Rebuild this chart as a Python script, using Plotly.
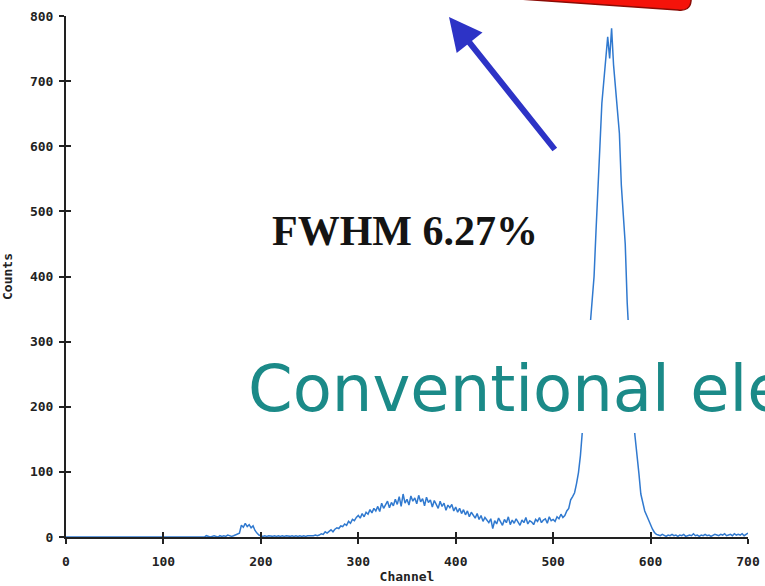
import plotly.graph_objects as go

# Pulse-height spectrum: counts per channel (sampled every 2 channels)
channels = list(range(0, 702, 2))
counts = [
    0, 0, 0, 0, 0, 0, 0, 0, 0, 0,            # 0-18
    0, 0, 0, 0, 0, 0, 0, 0, 0, 0,            # 20-38
    0, 0, 0, 0, 0, 0, 0, 0, 0, 0,            # 40-58
    0, 0, 0, 0, 0, 0, 0, 0, 0, 0,            # 60-78
    0, 0, 0, 0, 0, 0, 0, 0, 0, 0,            # 80-98
    0, 0, 0, 0, 0, 0, 0, 0, 0, 0,            # 100-118
    0, 0, 0, 0, 0, 0, 0, 0, 0, 1,            # 120-138
    1, 0, 2, 1, 0, 1, 2, 1, 0, 2,            # 140-158
    1, 2, 1, 3, 2, 1, 2, 3, 4, 6,            # 160-178
    18, 15, 21, 16, 19, 14, 17, 10, 6, 3,    # 180-198
    2, 1, 2, 1, 2, 1, 1, 2, 1, 2,            # 200-218
    1, 2, 1, 2, 1, 1, 2, 1, 2, 1,            # 220-238
    2, 1, 2, 1, 2, 2, 1, 2, 3, 2,            # 240-258
    3, 5, 4, 8, 6, 9, 11, 8, 12, 14,         # 260-278
    13, 17, 16, 20, 18, 24, 21, 27, 25, 30,  # 280-298
    33, 29, 36, 31, 38, 35, 42, 37, 44, 40,  # 300-318
    47, 39, 52, 44, 49, 55, 45, 53, 48, 58,  # 320-338
    50, 62, 47, 66, 52, 58, 49, 63, 55, 60,  # 340-358
    51, 64, 54, 59, 48, 61, 53, 57, 46, 56,  # 360-378
    50, 44, 55, 47, 52, 41, 49, 45, 50, 40,  # 380-398
    46, 38, 44, 36, 42, 34, 40, 31, 38, 33,  # 400-418
    29, 36, 27, 33, 24, 30, 26, 22, 28, 13,  # 420-438
    25, 20, 29, 23, 18, 27, 22, 31, 19, 26,  # 440-458
    21, 28, 23, 18, 26, 22, 30, 20, 25, 23,  # 460-478
    19, 27, 24, 30, 22, 26, 28, 21, 31, 25,  # 480-498
    27, 24, 31, 28, 35, 30, 33, 40, 44, 57,  # 500-518
    62, 68, 82, 99, 125, 157, 200, 250, 290, 330,      # 520-538
    370, 400, 470, 545, 600, 666, 700, 745, 768, 735,  # 540-558
    781, 725, 690, 650, 620, 540, 490, 450, 360, 300,  # 560-578
    240, 190, 155, 120, 98, 66, 50, 40, 33, 26,        # 580-598
    18, 12, 7, 4, 3, 2, 4, 3, 1, 3,          # 600-618
    2, 4, 2, 3, 1, 3, 2, 4, 1, 2,            # 620-638
    3, 2, 5, 2, 3, 1, 3, 2, 4, 2,            # 640-658
    3, 1, 2, 4, 3, 2, 4, 3, 5, 2,            # 660-678
    3, 4, 2, 5, 3, 4, 3, 5, 2, 4,            # 680-698
    6,                                       # 700
]

x_ticks = [0, 100, 200, 300, 400, 500, 600, 700]
y_ticks = [0, 100, 200, 300, 400, 500, 600, 700, 800]

W, H = 765, 586
L, R, T, B = 66, 748, 16, 537   # plot-area edges in pixels


def fx(px):
    """Pixel column -> paper x."""
    return (px - L) / (R - L)


def fy(py):
    """Pixel row -> paper y."""
    return (B - py) / (B - T)


AXIS = "#222222"
tickfont = dict(family="DejaVu Sans Mono", size=13, color=AXIS, weight="bold")
titlefont = dict(family="DejaVu Sans Mono", size=13, color=AXIS, weight="bold")

fig = go.Figure()
fig.add_trace(go.Scatter(
    x=channels, y=counts, mode="lines",
    line=dict(color="#3079cf", width=1.5),
    showlegend=False, hoverinfo="skip",
))
# empty trace on the mirror axes that carry the inner halves of the ticks
fig.add_trace(go.Scatter(x=[], y=[], xaxis="x2", yaxis="y2",
                         showlegend=False, hoverinfo="skip"))

common = dict(showgrid=False, zeroline=False, fixedrange=True, automargin=False)

fig.update_layout(
    width=W, height=H,
    margin=dict(l=L, r=W - R, t=T, b=H - B),
    paper_bgcolor="white", plot_bgcolor="white",
    xaxis=dict(
        range=[0, 700], tickvals=x_ticks, ticks="outside", ticklen=5,
        tickwidth=1.5, tickcolor=AXIS, showline=True, linecolor=AXIS,
        linewidth=2, tickfont=tickfont, ticklabelstandoff=6,
        title=dict(text="Channel", font=titlefont, standoff=4), **common,
    ),
    xaxis2=dict(
        range=[0, 700], tickvals=x_ticks, ticks="inside", ticklen=5,
        tickwidth=1.5, tickcolor=AXIS, overlaying="x", anchor="y",
        side="bottom", showticklabels=False, showline=False, **common,
    ),
    yaxis=dict(
        range=[0, 800], tickvals=y_ticks, ticks="outside", ticklen=5,
        tickwidth=1.5, tickcolor=AXIS, showline=True, linecolor=AXIS,
        linewidth=2, tickfont=tickfont, ticklabelstandoff=3,
        title=dict(text="Counts", font=titlefont, standoff=18), **common,
    ),
    yaxis2=dict(
        range=[0, 800], tickvals=y_ticks, ticks="inside", ticklen=5,
        tickwidth=1.5, tickcolor=AXIS, overlaying="y", anchor="x",
        side="left", showticklabels=False, showline=False, **common,
    ),
)

# red callout banner running off the top edge
path = (
    f"M {fx(505):.5f},{fy(-2):.5f} L {fx(678):.5f},{fy(10):.5f}"
    f" Q {fx(690):.5f},{fy(11.5):.5f} {fx(691):.5f},{fy(1):.5f}"
    f" L {fx(693):.5f},{fy(-40):.5f} L {fx(505):.5f},{fy(-40):.5f} Z"
)
fig.add_shape(type="path", path=path, xref="paper", yref="paper",
              fillcolor="#f5130a", line=dict(color="#8a0b05", width=1.5),
              layer="above")

# white panel behind the caption, masking the middle of the peak
fig.add_shape(type="rect", xref="paper", yref="paper",
              x0=fx(246), x1=fx(770), y0=fy(433), y1=fy(320),
              fillcolor="white", line=dict(width=0), layer="above")

# blue pointer arrow
fig.add_annotation(
    x=fx(449), y=fy(17), xref="paper", yref="paper", text="",
    showarrow=True, ax=107, ay=134, arrowhead=2, arrowsize=1.1,
    arrowwidth=6, arrowcolor="#2d33c6",
)

fig.add_annotation(
    x=fx(404.5), y=fy(231), xref="paper", yref="paper",
    text="<b>FWHM 6.27%</b>", showarrow=False,
    font=dict(family="Liberation Serif", size=42, color="#141414"),
    xanchor="center", yanchor="middle",
)

fig.add_annotation(
    x=fx(247), y=fy(389), xref="paper", yref="paper",
    text="Conventional electrode", showarrow=False,
    font=dict(family="DejaVu Sans", size=64, color="#1b8a88"),
    xanchor="left", yanchor="middle", borderpad=0,
)

fig.write_html("out.html")
